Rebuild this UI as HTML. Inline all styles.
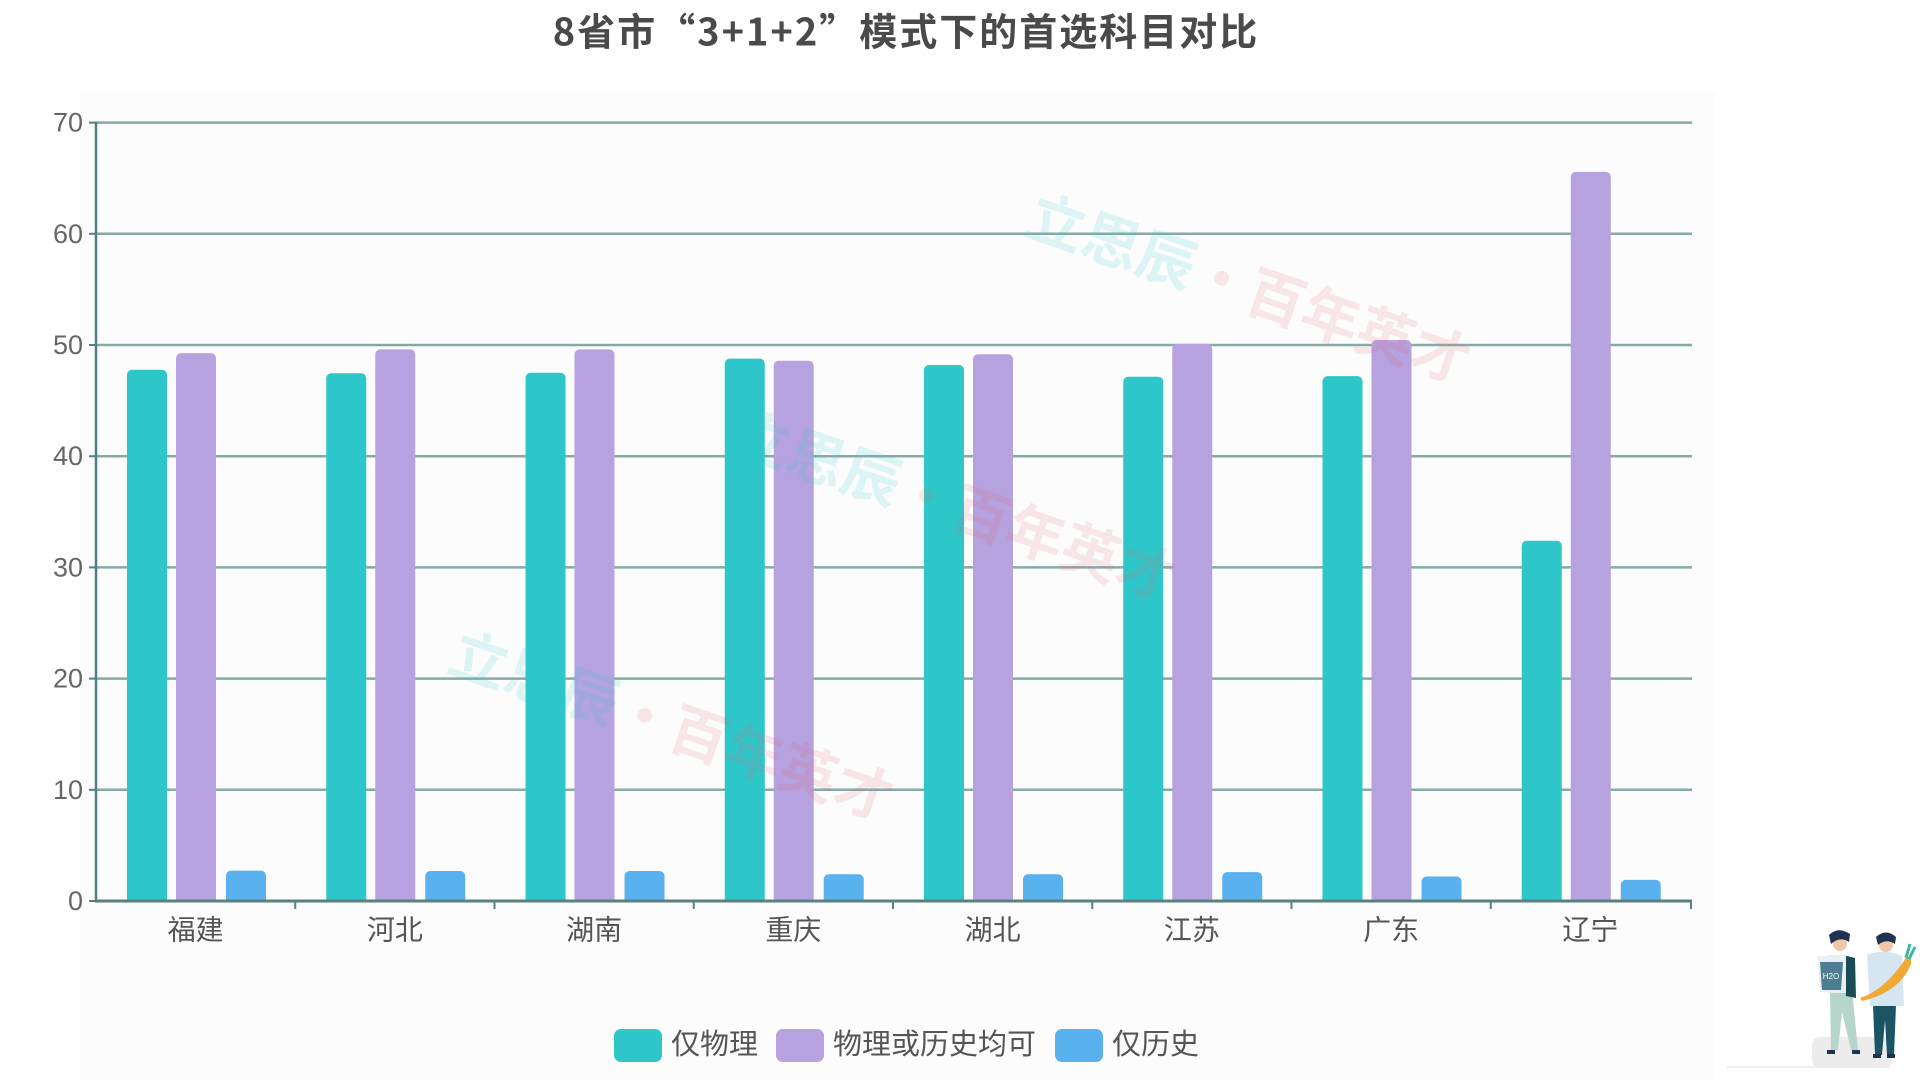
<!DOCTYPE html>
<html>
<head>
<meta charset="utf-8">
<style>
  html,body{margin:0;padding:0;background:#ffffff;}
  body{width:1920px;height:1080px;overflow:hidden;}
  svg{display:block;}
</style>
</head>
<body>
<svg width="1920" height="1080" viewBox="0 0 1920 1080" xmlns="http://www.w3.org/2000/svg">
  <defs>
    <clipPath id="plot"><rect x="0" y="0" width="1920" height="901"/></clipPath>
  </defs>
  <rect x="0" y="0" width="1920" height="1080" fill="#ffffff"/>
  <rect x="80" y="92" width="1635" height="988" fill="#fcfcfc"/>

  <!-- Title -->
  <text x="906" y="29" text-anchor="middle" dominant-baseline="central" font-family="'Noto Sans CJK SC','Liberation Sans',sans-serif" font-weight="bold" font-size="38" letter-spacing="2" fill="#4a4a4a">8省市“3+1+2”模式下的首选科目对比</text>

  <!-- Gridlines -->
  <g stroke="#86aaa8" stroke-width="2.5">
    <line x1="96" y1="122.6" x2="1692" y2="122.6"/>
    <line x1="96" y1="233.8" x2="1692" y2="233.8"/>
    <line x1="96" y1="345" x2="1692" y2="345"/>
    <line x1="96" y1="456.2" x2="1692" y2="456.2"/>
    <line x1="96" y1="567.4" x2="1692" y2="567.4"/>
    <line x1="96" y1="678.6" x2="1692" y2="678.6"/>
    <line x1="96" y1="789.8" x2="1692" y2="789.8"/>
  </g>

  <!-- Y axis ticks -->
  <g stroke="#4f7f80" stroke-width="2">
    <line x1="89" y1="122.6" x2="96" y2="122.6"/>
    <line x1="89" y1="233.8" x2="96" y2="233.8"/>
    <line x1="89" y1="345" x2="96" y2="345"/>
    <line x1="89" y1="456.2" x2="96" y2="456.2"/>
    <line x1="89" y1="567.4" x2="96" y2="567.4"/>
    <line x1="89" y1="678.6" x2="96" y2="678.6"/>
    <line x1="89" y1="789.8" x2="96" y2="789.8"/>
    <line x1="89" y1="901" x2="96" y2="901"/>
  </g>

  <!-- Y labels -->
  <g font-family="'Liberation Sans',sans-serif" font-size="27" fill="#666" text-anchor="end" dominant-baseline="central">
    <text x="83" y="122.6">70</text>
    <text x="83" y="233.8">60</text>
    <text x="83" y="345">50</text>
    <text x="83" y="456.2">40</text>
    <text x="83" y="567.4">30</text>
    <text x="83" y="678.6">20</text>
    <text x="83" y="789.8">10</text>
    <text x="83" y="901">0</text>
  </g>

  <!-- Bars -->
  <g clip-path="url(#plot)">
    <!-- 福建 -->
    <rect x="127" y="369.8" width="40" height="545" rx="5" fill="#2ec7c9"/>
    <rect x="176" y="353.1" width="40" height="560" rx="5" fill="#b6a2de"/>
    <rect x="226" y="870.6" width="40" height="45" rx="5" fill="#5ab1ef"/>
    <!-- 河北 -->
    <rect x="326.25" y="373.2" width="40" height="545" rx="5" fill="#2ec7c9"/>
    <rect x="375.25" y="349.4" width="40" height="560" rx="5" fill="#b6a2de"/>
    <rect x="425.25" y="871" width="40" height="45" rx="5" fill="#5ab1ef"/>
    <!-- 湖南 -->
    <rect x="525.5" y="372.8" width="40" height="545" rx="5" fill="#2ec7c9"/>
    <rect x="574.5" y="349.4" width="40" height="560" rx="5" fill="#b6a2de"/>
    <rect x="624.5" y="871" width="40" height="45" rx="5" fill="#5ab1ef"/>
    <!-- 重庆 -->
    <rect x="724.75" y="358.6" width="40" height="560" rx="5" fill="#2ec7c9"/>
    <rect x="773.75" y="360.7" width="40" height="560" rx="5" fill="#b6a2de"/>
    <rect x="823.75" y="874.3" width="40" height="45" rx="5" fill="#5ab1ef"/>
    <!-- 湖北 -->
    <rect x="924" y="365" width="40" height="560" rx="5" fill="#2ec7c9"/>
    <rect x="973" y="354.3" width="40" height="560" rx="5" fill="#b6a2de"/>
    <rect x="1023" y="874.3" width="40" height="45" rx="5" fill="#5ab1ef"/>
    <!-- 江苏 -->
    <rect x="1123.25" y="376.7" width="40" height="545" rx="5" fill="#2ec7c9"/>
    <rect x="1172.25" y="343.9" width="40" height="570" rx="5" fill="#b6a2de"/>
    <rect x="1222.25" y="872.1" width="40" height="45" rx="5" fill="#5ab1ef"/>
    <!-- 广东 -->
    <rect x="1322.5" y="376.1" width="40" height="545" rx="5" fill="#2ec7c9"/>
    <rect x="1371.5" y="340" width="40" height="570" rx="5" fill="#b6a2de"/>
    <rect x="1421.5" y="876.5" width="40" height="45" rx="5" fill="#5ab1ef"/>
    <!-- 辽宁 -->
    <rect x="1521.75" y="540.7" width="40" height="380" rx="5" fill="#2ec7c9"/>
    <rect x="1570.75" y="171.9" width="40" height="740" rx="5" fill="#b6a2de"/>
    <rect x="1620.75" y="879.9" width="40" height="45" rx="5" fill="#5ab1ef"/>
  </g>

  <!-- Axes -->
  <line x1="96" y1="122" x2="96" y2="902" stroke="#4f7f80" stroke-width="2.5"/>
  <line x1="95" y1="901" x2="1692" y2="901" stroke="#5a8080" stroke-width="3"/>
  <g stroke="#5a8080" stroke-width="2">
    <line x1="295.25" y1="901" x2="295.25" y2="909"/>
    <line x1="494.5" y1="901" x2="494.5" y2="909"/>
    <line x1="693.75" y1="901" x2="693.75" y2="909"/>
    <line x1="893" y1="901" x2="893" y2="909"/>
    <line x1="1092.25" y1="901" x2="1092.25" y2="909"/>
    <line x1="1291.5" y1="901" x2="1291.5" y2="909"/>
    <line x1="1490.75" y1="901" x2="1490.75" y2="909"/>
    <line x1="1691" y1="901" x2="1691" y2="909"/>
  </g>

  <!-- X labels -->
  <g font-family="'Liberation Sans','Noto Sans CJK SC',sans-serif" font-size="28" fill="#555" text-anchor="middle" dominant-baseline="central">
    <text x="195.6" y="930">福建</text>
    <text x="394.9" y="930">河北</text>
    <text x="594.1" y="930">湖南</text>
    <text x="793.4" y="930">重庆</text>
    <text x="992.6" y="930">湖北</text>
    <text x="1191.9" y="930">江苏</text>
    <text x="1391.1" y="930">广东</text>
    <text x="1590.4" y="930">辽宁</text>
  </g>

  <!-- Watermarks -->
  <g font-family="'Noto Sans CJK SC',sans-serif" font-weight="bold" font-size="58" text-anchor="middle" dominant-baseline="central">
    <text transform="translate(1250,285) rotate(19)"><tspan fill="rgba(46,199,201,0.15)">立思辰</tspan><tspan fill="rgba(230,100,120,0.15)">·百年英才</tspan></text>
    <text transform="translate(955,502) rotate(19)"><tspan fill="rgba(46,199,201,0.15)">立思辰</tspan><tspan fill="rgba(230,100,120,0.15)">·百年英才</tspan></text>
    <text transform="translate(673,722) rotate(19)"><tspan fill="rgba(46,199,201,0.15)">立思辰</tspan><tspan fill="rgba(230,100,120,0.15)">·百年英才</tspan></text>
  </g>

  <!-- Legend -->
  <rect x="614" y="1029" width="48" height="33" rx="7" fill="#2ec7c9"/>
  <rect x="776" y="1029" width="48" height="33" rx="7" fill="#b6a2de"/>
  <rect x="1055" y="1029" width="48" height="33" rx="7" fill="#5ab1ef"/>
  <g font-family="'Liberation Sans','Noto Sans CJK SC',sans-serif" font-size="29" fill="#555" dominant-baseline="central">
    <text x="671" y="1045">仅物理</text>
    <text x="833" y="1045">物理或历史均可</text>
    <text x="1112" y="1045">仅历史</text>
  </g>

  <!-- Illustration bottom-right -->
  <g>
    <line x1="1727" y1="1067" x2="1890" y2="1067" stroke="#eeeeee" stroke-width="2"/>
    <rect x="1812" y="1037" width="80" height="31" rx="8" fill="#ececec"/>
    <!-- person 1 -->
    <path d="M1830 990 L1852 990 L1858 1050 L1851 1050 L1842 1012 L1838 1050 L1831 1050 Z" fill="#b7d6cb"/>
    <path d="M1843 955 L1855 958 L1856 998 L1846 996 Z" fill="#1b4c55"/>
    <rect x="1828" y="955" width="18" height="38" fill="#e6eef2"/>
    <circle cx="1840" cy="944" r="7" fill="#f3c7a8"/>
    <path d="M1829 935 Q1838 926 1850 934 L1849 942 Q1840 936 1831 944 Z" fill="#1d3350"/>
    <path d="M1817 956 L1846 956 L1843 992 L1820 992 Z" fill="#eaf1f4"/>
    <path d="M1820 962 L1843 962 L1841 990 L1822 990 Z" fill="#4d7d92"/>
    <text x="1831" y="979" font-family="'Liberation Sans',sans-serif" font-size="8" fill="#ffffff" text-anchor="middle">H2O</text>
    <rect x="1827" y="1050" width="8" height="4" fill="#1d3350"/>
    <rect x="1852" y="1050" width="8" height="4" fill="#1d3350"/>
    <!-- person 2 -->
    <path d="M1873 1005 L1896 1005 L1894 1055 L1887 1055 L1885 1020 L1882 1055 L1875 1055 Z" fill="#1b5565"/>
    <path d="M1867 955 Q1885 948 1902 956 L1904 1006 L1870 1006 Z" fill="#d6e6f1"/>
    <circle cx="1886" cy="945" r="7" fill="#f3c7a8"/>
    <path d="M1876 937 Q1886 928 1896 937 L1895 944 Q1886 938 1878 945 Z" fill="#1d3350"/>
    <path d="M1860 998 Q1885 990 1906 958 Q1912 955 1911 964 Q1900 992 1862 1001 Z" fill="#f0a935"/>
    <path d="M1906 958 L1910 944 M1909 959 L1915 947" stroke="#3cb8a0" stroke-width="3"/>
    <rect x="1873" y="1054" width="8" height="4" fill="#1d3350"/>
    <rect x="1887" y="1054" width="8" height="4" fill="#1d3350"/>
  </g>
</svg>
</body>
</html>
